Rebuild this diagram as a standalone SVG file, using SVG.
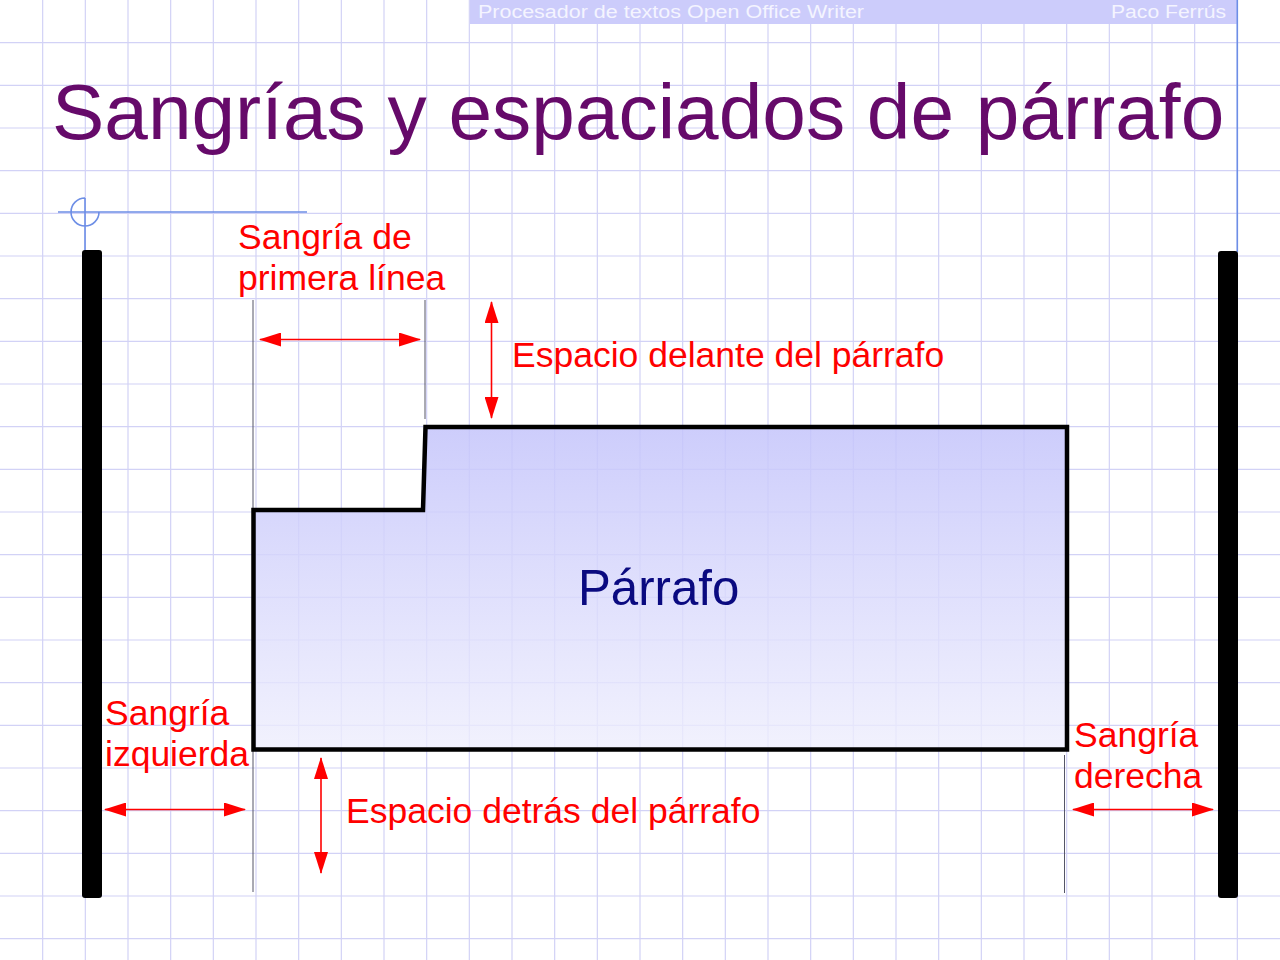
<svg xmlns="http://www.w3.org/2000/svg" width="1280" height="960" viewBox="0 0 1280 960">
<style>
.grid{stroke:#d2d2f6;stroke-width:1.2;fill:none}
.red{font-family:"Liberation Sans",Arial,sans-serif;font-size:35.5px;fill:#ff0000}
.arrow{stroke:#ff0000;stroke-width:1.6;fill:none;marker-start:url(#ah);marker-end:url(#ah)}
.guide{stroke:#555566;stroke-width:1;fill:none}
.blue{stroke:#6d8ee6;stroke-width:1.6;fill:none}
.bar{fill:#000000}
.hdr{font-family:"Liberation Sans",Arial,sans-serif;font-size:18px;fill:#f4f4ff}
</style>
<defs>
<marker id="ah" viewBox="0 0 22 14" refX="21" refY="7" markerWidth="22" markerHeight="14" markerUnits="userSpaceOnUse" orient="auto-start-reverse">
<path d="M0,0 L22,7 L0,14 Z" fill="#ff0000"/>
</marker>
<linearGradient id="pg" x1="0" y1="0" x2="0" y2="1">
<stop offset="0" stop-color="#c4c4fb" stop-opacity="0.85"/>
<stop offset="1" stop-color="#eeeefd" stop-opacity="0.8"/>
</linearGradient>
</defs>
<rect width="1280" height="960" fill="#ffffff"/>
<g id="grid">
<path class="grid" d="M42.67 0V960M85.33 0V960M128 0V960M170.67 0V960M213.33 0V960M256 0V960M298.67 0V960M341.33 0V960M384 0V960M426.67 0V960M469.33 0V960M512 0V960M554.67 0V960M597.33 0V960M640 0V960M682.67 0V960M725.33 0V960M768 0V960M810.67 0V960M853.33 0V960M896 0V960M938.67 0V960M981.33 0V960M1024 0V960M1066.67 0V960M1109.33 0V960M1152 0V960M1194.67 0V960M1237.33 0V960M0 42.67H1280M0 85.33H1280M0 128H1280M0 170.67H1280M0 213.33H1280M0 256H1280M0 298.67H1280M0 341.33H1280M0 384H1280M0 426.67H1280M0 469.33H1280M0 512H1280M0 554.67H1280M0 597.33H1280M0 640H1280M0 682.67H1280M0 725.33H1280M0 768H1280M0 810.67H1280M0 853.33H1280M0 896H1280M0 938.67H1280"/>
</g>
<g id="header">
<rect x="470" y="0" width="767" height="24" fill="#ccccfb"/>
<text class="hdr" x="478" y="18" textLength="386" lengthAdjust="spacingAndGlyphs">Procesador de textos Open Office Writer</text>
<text class="hdr" x="1111" y="18" textLength="115" lengthAdjust="spacingAndGlyphs">Paco Ferrús</text>
<path class="blue" d="M1237.3 0V252"/>
</g>
<g id="title">
<text x="52" y="139" font-family="'Liberation Sans',Arial,sans-serif" font-size="78.4" fill="#660a6a">Sangrías y espaciados de párrafo</text>
</g>
<g id="margin-mark">
<path class="blue" d="M58 212H307M85 198V251M85 198A14 14 0 1 0 99 212"/>
</g>
<g id="left-margin">
<rect class="bar" x="82" y="250" width="20" height="648" rx="3"/>
</g>
<g id="right-margin">
<rect class="bar" x="1218" y="251" width="20" height="647" rx="3"/>
</g>
<g id="guides">
<path class="guide" d="M253 300V892M425 300V419M1064.5 755V893"/>
</g>
<g id="paragraph">
<path d="M253.5 510H423L425.5 427H1067V749.5H253.5Z" fill="url(#pg)" stroke="#000000" stroke-width="4.5" stroke-linejoin="miter"/>
<text x="578" y="605" font-family="'Liberation Sans',Arial,sans-serif" font-size="49.2" fill="#0a0a80">Párrafo</text>
</g>
<g id="connectors">
<path class="arrow" d="M260 339.5H420"/>
<path class="arrow" d="M491.5 302V418"/>
<path class="arrow" d="M105 809.5H245"/>
<path class="arrow" d="M321 758V873"/>
<path class="arrow" d="M1073 809.5H1213"/>
</g>
<g id="labels">
<text class="red" x="238" y="249">Sangría de</text>
<text class="red" x="238" y="290">primera línea</text>
<text class="red" x="512" y="367">Espacio delante del párrafo</text>
<text class="red" x="105" y="725">Sangría</text>
<text class="red" x="105" y="766">izquierda</text>
<text class="red" x="346" y="823">Espacio detrás del párrafo</text>
<text class="red" x="1074" y="747">Sangría</text>
<text class="red" x="1074" y="788">derecha</text>
</g>
</svg>
